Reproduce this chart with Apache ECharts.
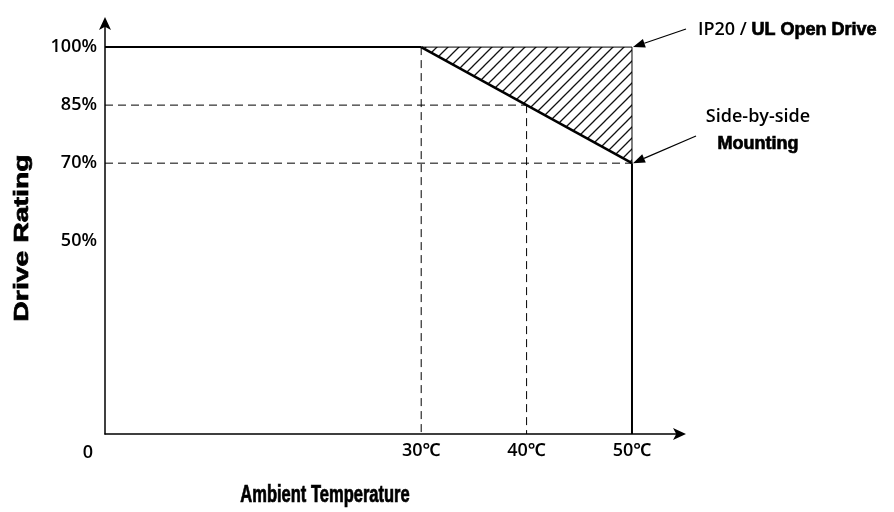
<!DOCTYPE html>
<html><head><meta charset="utf-8">
<script src="https://cdn.jsdelivr.net/npm/echarts@6/dist/echarts.min.js"></script>
<style>html,body{margin:0;padding:0;background:#fff}#c{width:894px;height:512px}</style>
</head><body><div id="c"></div>
<script>
// ---- data ----
const xTickValues = [30, 40, 50];
const yTickValues = [50, 70, 85, 100];
const fullRating = [[0, 100], [30, 100]];
const derating = [[30, 100], [50, 70]];
const hatchTop = [[30, 100], [50, 100]];
const hatchRight = [[50, 100], [50, 70]];
const cutoff = [[50, 70], [50, 0]];
const hatchArea = [[30, 100], [50, 100], [50, 70]];
const guide85 = [[0, 85], [40, 85]];
const guide70 = [[0, 70], [50, 70]];
const guide30 = [[30, 100], [30, 0]];
const guide40 = [[40, 85], [40, 0]];
const labelOpenA = 'IP20 / ';
const labelOpenB = 'UL Open Drive';
const labelSide = ['Side-by-side', 'Mounting'];
const originLabel = '0';
const xName = 'Ambient Temperature';
const yName = 'Drive Rating';

const FONT = '"Open Sans", "Noto Sans", sans-serif';
const TITLEFONT = '"Liberation Sans", Arial, sans-serif';

// hatch pattern
const pc = document.createElement('canvas');
const T = 11;
pc.width = T; pc.height = T;
const g = pc.getContext('2d');
g.strokeStyle = '#111'; g.lineWidth = 1.3;
g.beginPath();
g.moveTo(-2, T + 2); g.lineTo(T + 2, -2);
g.moveTo(-2, 2); g.lineTo(2, -2);
g.moveTo(T - 2, T + 2); g.lineTo(T + 2, T - 2);
g.stroke();

function lineSeries(data, width, dashed) {
  return {
    type: 'line', data: data, symbol: 'none', silent: true, z: dashed ? 2 : 3,
    lineStyle: { color: '#000', width: width, type: dashed ? [8, 5] : 'solid' },
    animation: false
  };
}

const chart = echarts.init(document.getElementById('c'));
chart.setOption({
  animation: false,
  grid: { left: 105, right: 211, top: 20, bottom: 78 },
  xAxis: {
    type: 'value', min: 0, max: 54.84,
    splitLine: { show: false },
    axisLine: { lineStyle: { color: '#000', width: 1.5 }, symbol: ['none', 'arrow'], symbolSize: [9, 13], symbolOffset: [0, 3] },
    axisTick: { show: false },
    axisLabel: { customValues: xTickValues, formatter: v => v + '℃', color: '#000', fontSize: 18, fontWeight: 600, fontFamily: FONT, margin: 8 }
  },
  yAxis: {
    type: 'value', min: 0, max: 107,
    splitLine: { show: false },
    axisLine: { lineStyle: { color: '#000', width: 1.5 }, symbol: ['none', 'arrow'], symbolSize: [9, 13], symbolOffset: [0, 3] },
    axisTick: { show: false },
    axisLabel: { customValues: yTickValues, formatter: v => v + '%', color: '#000', fontSize: 18, fontWeight: 600, fontFamily: FONT, margin: 8 }
  },
  series: [
    {
      type: 'custom', silent: true, z: 1,
      data: hatchArea,
      renderItem: function (params, api) {
        if (params.dataIndex !== 0) return;
        const pts = hatchArea.map(p => api.coord(p));
        return { type: 'polygon', shape: { points: pts }, style: { fill: { image: pc, repeat: 'repeat' }, stroke: null } };
      }
    },
    lineSeries(guide85, 1, true),
    lineSeries(guide70, 1, true),
    lineSeries(guide30, 1, true),
    lineSeries(guide40, 1, true),
    lineSeries(fullRating, 2, false),
    lineSeries(derating, 2.5, false),
    lineSeries(hatchTop, 1, false),
    lineSeries(hatchRight, 1, false),
    lineSeries(cutoff, 2, false)
  ]
});

function arrow(tail, tip) {
  const dx = tip[0] - tail[0], dy = tip[1] - tail[1];
  const L = Math.sqrt(dx * dx + dy * dy), ux = dx / L, uy = dy / L;
  const hl = 12, hw = 4.5;
  const bx = tip[0] - ux * hl, by = tip[1] - uy * hl;
  return [
    { type: 'line', shape: { x1: tail[0], y1: tail[1], x2: bx, y2: by }, style: { stroke: '#000', lineWidth: 1.2 } },
    { type: 'polygon', shape: { points: [tip, [bx - uy * hw, by + ux * hw], [bx + uy * hw, by - ux * hw]] }, style: { fill: '#000' } }
  ];
}
const heavy = { fill: '#000', stroke: '#000', lineWidth: 0.7 };
const pOpen = chart.convertToPixel({ gridIndex: 0 }, hatchTop[1]);
const pSide = chart.convertToPixel({ gridIndex: 0 }, derating[1]);
chart.setOption({
  graphic: [].concat(
    arrow([686, 29], [pOpen[0] + 1, pOpen[1]]),
    arrow([696, 136], [pSide[0] + 1, pSide[1]]),
    [
      { type: 'text', x: 698, y: 30, style: {
          text: '{a|' + labelOpenA + '}{b|' + labelOpenB + '}', verticalAlign: 'middle',
          rich: {
            a: { fontFamily: FONT, fontWeight: 600, fontSize: 18, fill: '#000' },
            b: { fontFamily: TITLEFONT, fontWeight: 'bold', fontSize: 18, fill: '#000', stroke: '#000', lineWidth: 0.7 }
          } } },
      { type: 'text', x: 758, y: 117, style: { text: labelSide[0], font: '600 18px ' + FONT, fill: '#000', align: 'center', verticalAlign: 'middle' } },
      { type: 'text', x: 758, y: 144, style: Object.assign({ text: labelSide[1], font: 'bold 18px ' + TITLEFONT, align: 'center', verticalAlign: 'middle' }, heavy) },
      { type: 'text', x: 88, y: 453, style: { text: originLabel, font: '600 18px ' + FONT, fill: '#000', align: 'center', verticalAlign: 'middle' } },
      { type: 'text', x: 325, y: 496, scaleX: 0.75, scaleY: 1.05, style: Object.assign({ text: xName, font: 'bold 22px ' + TITLEFONT, align: 'center', verticalAlign: 'middle' }, heavy) },
      { type: 'text', x: 22, y: 238, rotation: Math.PI / 2, scaleX: 1.42, style: Object.assign({ text: yName, font: 'bold 20px ' + TITLEFONT, align: 'center', verticalAlign: 'middle' }, heavy) }
    ]
  )
});
</script></body></html>
